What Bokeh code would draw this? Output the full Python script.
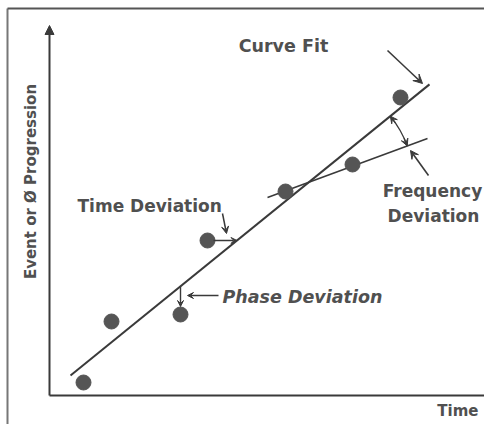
import math
from bokeh.plotting import figure
from bokeh.models import Range1d, Arrow, NormalHead, VeeHead
from bokeh.core.properties import value
from bokeh.embed import file_html
from bokeh.resources import INLINE

# ---- data (time units / progression units) ----
time = [0.85, 1.55, 3.275, 3.95, 5.9, 7.575, 8.775]
progression = [0.325, 1.85, 2.025, 3.875, 5.1, 5.775, 7.45]

fit_intercept = 0.074
fit_slope = 0.811
fit_x = [0.525, 9.5]

freq_x = [5.45, 9.45]
freq_intercept = 2.939
freq_slope = 0.369

phase_point = 2       # index of point used for phase deviation
timedev_point = 3     # index of point used for time deviation

x_label = "Time"
y_label = "Event or \u00d8 Progression"

FONT = value("DejaVu Sans")
TXT = "#505050"
LINE = "#3a3a3a"

p = figure(width=484, height=424,
           x_range=Range1d(-1.225, 10.875), y_range=Range1d(-0.725, 9.875),
           min_border=0, toolbar_location=None, output_backend="svg")
p.axis.visible = False
p.grid.visible = False
p.outline_line_color = None
p.background_fill_color = "white"

# outer frame (left and top)
p.line([-1.05, -1.05], [-0.725, 9.675], line_color="#777777", line_width=2)
p.line([-1.05, 10.875], [9.675, 9.675], line_color="#555555", line_width=2)

# axes
p.line([0, 10.875], [0, 0], line_color=LINE, line_width=2)
p.add_layout(Arrow(end=NormalHead(size=9, fill_color=LINE, line_color=LINE),
                   x_start=0, y_start=0, x_end=0, y_end=9.25,
                   line_color=LINE, line_width=2))

# fit line
fy = [fit_intercept + fit_slope * x for x in fit_x]
p.line(fit_x, fy, line_color=LINE, line_width=2)

# frequency line
qy = [freq_intercept + freq_slope * x for x in freq_x]
p.line(freq_x, qy, line_color=LINE, line_width=1.6)

# points
p.scatter(time, progression, size=15, fill_color="#555555", line_color="#555555")

def head(sz):
    return VeeHead(size=sz, fill_color=LINE, line_color=LINE)

# angle arc between fit and frequency lines
ix = (freq_intercept - fit_intercept) / (fit_slope - freq_slope)
iy = fit_intercept + fit_slope * ix
r = 2.625
a0 = math.atan(freq_slope)
a1 = math.atan(fit_slope)
p.arc(x=[ix], y=[iy], radius=r, start_angle=a0, end_angle=a1,
      line_color=LINE, line_width=1.3)
d = 0.08
for a, s in ((a0, 1), (a1, -1)):
    p.add_layout(Arrow(end=head(7),
                       x_start=ix + r * math.cos(a + s * d), y_start=iy + r * math.sin(a + s * d),
                       x_end=ix + r * math.cos(a), y_end=iy + r * math.sin(a),
                       line_color=LINE, line_width=1.3))

# curve fit arrow
p.add_layout(Arrow(end=head(9), x_start=8.45, y_start=8.625, x_end=9.325, y_end=7.8,
                   line_color=LINE, line_width=1.6))
# frequency deviation arrow
p.add_layout(Arrow(end=head(8), x_start=9.475, y_start=5.5, x_end=9.025, y_end=6.125,
                   line_color=LINE, line_width=1.6))

# time deviation: horizontal from point to fit line
tx, ty = time[timedev_point], progression[timedev_point]
tx_line = (ty - fit_intercept) / fit_slope
p.add_layout(Arrow(end=head(6), x_start=tx + 0.15, y_start=ty, x_end=tx_line, y_end=ty,
                   line_color=LINE, line_width=1.4))
p.add_layout(Arrow(end=head(7), x_start=4.325, y_start=4.55, x_end=4.425, y_end=4.05,
                   line_color=LINE, line_width=1.5))

# phase deviation: vertical from fit line down to point
px_, py_ = time[phase_point], progression[phase_point]
py_line = fit_intercept + fit_slope * px_
p.add_layout(Arrow(end=head(6), x_start=px_, y_start=py_line, x_end=px_, y_end=py_ + 0.2,
                   line_color=LINE, line_width=1.4))
p.add_layout(Arrow(end=head(6), x_start=4.225, y_start=2.5, x_end=3.45, y_end=2.5,
                   line_color=LINE, line_width=1.4))

# texts
def txt(x, y, t, align="center", style="bold", size="17px", angle=0):
    p.text(x=[x], y=[y], text=[t], text_align=align, text_baseline="middle",
           text_font=FONT, text_font_style=style, text_font_size=size,
           text_color=TXT, angle=angle)

txt(5.85, 8.75, "Curve Fit", size="17.5px")
txt(9.575, 5.125, "Frequency")
txt(9.6, 4.5, "Deviation")
txt(0.7, 4.75, "Time Deviation", align="left")
txt(4.325, 2.475, "Phase Deviation", align="left", style="bold italic", size="17.5px")
txt(10.725, -0.375, x_label, align="right", size="15px")
txt(-0.475, 5.35, y_label, size="15px", angle=math.pi / 2)

open("out.html", "w").write(file_html(p, INLINE))
